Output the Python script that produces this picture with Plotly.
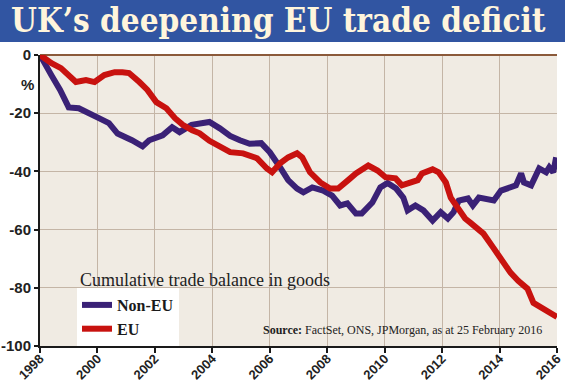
import plotly.graph_objects as go

title_text = "UK’s deepening EU trade deficit"
subtitle_text = "Cumulative trade balance in goods"
source_text = "<b>Source:</b> FactSet, ONS, JPMorgan, as at 25 February 2016"

non_eu_years = [1998.0, 1998.1, 1998.4, 1998.7, 1999.0, 1999.35, 1999.65, 2000.05, 2000.4, 2000.7,
                2001.2, 2001.57, 2001.8, 2002.27, 2002.6, 2002.86, 2003.28, 2003.56, 2003.9, 2004.26,
                2004.62, 2004.96, 2005.3, 2005.7, 2006.0, 2006.36, 2006.64, 2006.95, 2007.17, 2007.48,
                2007.86, 2008.17, 2008.45, 2008.7, 2009.0, 2009.2, 2009.57, 2009.85, 2010.1, 2010.4,
                2010.65, 2010.8, 2011.07, 2011.35, 2011.67, 2011.95, 2012.2, 2012.4, 2012.58, 2012.9,
                2013.07, 2013.28, 2013.6, 2013.8, 2014.05, 2014.33, 2014.57, 2014.75, 2014.85, 2015.1,
                2015.38, 2015.62, 2015.73, 2015.87, 2015.97]
non_eu_values = [0, -2, -7, -12, -18, -18.3, -20, -21.7, -23.4, -27,
                 -29.3, -31.4, -29.3, -27.6, -24.8, -26.5, -24, -23.4, -23, -25.2,
                 -27.8, -29.3, -30.5, -30.3, -33.4, -38.6, -43, -45.9, -47.2, -45.5,
                 -46.6, -48.3, -51.7, -51, -54.5, -54.5, -50.7, -45.5, -44, -45.9,
                 -49, -53.4, -51.7, -53.4, -56.9, -54, -56.2, -54, -50, -49.3,
                 -51.7, -49, -49.3, -50, -46.6, -45.9, -44.8, -40.7, -43.8, -44.8,
                 -39, -40.3, -38.6, -40.3, -35.2]

eu_years = [1998.0, 1998.07, 1998.4, 1998.73, 1999.0, 1999.25, 1999.6, 1999.9, 2000.24, 2000.6,
            2000.87, 2001.1, 2001.46, 2001.74, 2002.05, 2002.4, 2002.7, 2002.97, 2003.3, 2003.56,
            2003.9, 2004.26, 2004.62, 2005.07, 2005.56, 2005.9, 2006.08, 2006.36, 2006.64, 2006.95,
            2007.13, 2007.4, 2007.76, 2008.1, 2008.38, 2008.73, 2009.0, 2009.43, 2009.75, 2010.03,
            2010.38, 2010.6, 2010.9, 2011.15, 2011.3, 2011.67, 2011.88, 2012.13, 2012.3, 2012.55,
            2012.8, 2012.98, 2013.44, 2013.78, 2014.1, 2014.38, 2014.65, 2014.97, 2015.18, 2015.53,
            2015.94, 2016.0]
eu_values = [0, -0.5, -2.8, -4.5, -6.9, -9.3, -8.6, -9.3, -6.9, -5.9,
             -5.9, -6.2, -9.3, -12, -16.2, -18.3, -21.7, -24, -25.9, -26.9,
             -29.5, -31.7, -33.4, -33.8, -35.5, -39, -40.3, -37.2, -35.2, -33.8,
             -35.2, -40.3, -43.8, -45.9, -45.9, -43, -40.7, -38, -39.7, -42,
             -42.4, -44.8, -43.8, -43, -40.7, -39.3, -40.3, -43.8, -49, -52.8,
             -56.2, -57.6, -61.4, -66.2, -70.7, -74.8, -77.6, -80.3, -85.2, -87.2,
             -89.7, -90]

x_ticks = list(range(1998, 2017, 2))
x_tick_labels = [str(v) for v in x_ticks]
y_ticks = [0, -20, -40, -60, -80, -100]
y_tick_labels = [str(v) for v in y_ticks]

W, H = 565, 384
ML, MR, MT, MB = 40, 8, 55, 38
PW, PH = W - ML - MR, H - MT - MB

def px_x(p):
    return (p - ML) / PW

def px_y(p):
    return (H - MB - p) / PH

fig = go.Figure()
fig.add_trace(go.Scatter(x=non_eu_years, y=non_eu_values, mode="lines", name="Non-EU",
                         line=dict(color="#3a2176", width=6)))
fig.add_trace(go.Scatter(x=eu_years, y=eu_values, mode="lines", name="EU",
                         line=dict(color="#c8120f", width=6)))

ytickfont = dict(family="Liberation Sans", size=15, color="#222222", weight="bold")
xtickfont = dict(family="Liberation Sans", size=13, color="#222222", weight="bold")

fig.update_layout(
    width=W, height=H,
    margin=dict(l=ML, r=MR, t=MT, b=MB, autoexpand=False),
    paper_bgcolor="white",
    plot_bgcolor="#f0ebe3",
    showlegend=True,
    legend=dict(x=px_x(77), y=px_y(288), xanchor="left", yanchor="top",
                bgcolor="white", borderwidth=0,
                font=dict(family="Liberation Serif", size=16, color="#1a1a1a", weight="bold"),
                tracegroupgap=0, itemwidth=30),
    xaxis=dict(range=[1998, 2016], tickvals=x_ticks, ticktext=x_tick_labels,
               tickangle=-45, tickfont=xtickfont, showgrid=True, gridcolor="#c4b5a6",
               gridwidth=1.2, showline=True, linecolor="#1a1a1a", linewidth=2,
               ticks="outside", ticklen=5, tickcolor="#1a1a1a", tickwidth=1.5,
               ticklabelstandoff=-7,
               zeroline=False, fixedrange=True, automargin=False),
    yaxis=dict(range=[-100, 0], tickvals=y_ticks, ticktext=y_tick_labels,
               tickfont=ytickfont, showgrid=True, gridcolor="#c4b5a6", gridwidth=1.2,
               showline=True, linecolor="#1a1a1a", linewidth=2,
               ticks="outside", ticklen=4, tickcolor="#1a1a1a", tickwidth=1.5,
               zeroline=True, zerolinecolor="#8b5a3a", zerolinewidth=2, fixedrange=True,
               automargin=False),
)

# title bar
fig.add_shape(type="rect", xref="paper", yref="paper",
              x0=px_x(0), x1=px_x(W), y0=px_y(42), y1=px_y(0),
              fillcolor="#3155a2", line=dict(width=0), layer="above")
fig.add_annotation(text="<b>" + title_text + "</b>", xref="paper", yref="paper",
                   x=px_x(9), y=px_y(21), xanchor="left", yanchor="middle", showarrow=False,
                   font=dict(family="DejaVu Serif Condensed", size=33, color="#fff5dc"))

fig.add_annotation(text="%", xref="paper", yref="paper", x=px_x(27), y=px_y(85),
                   xanchor="center", yanchor="middle", showarrow=False,
                   font=dict(family="Liberation Sans", size=15, color="#222222", weight="bold"))

fig.add_annotation(text=subtitle_text, xref="paper", yref="paper", x=px_x(78), y=px_y(280),
                   xanchor="left", yanchor="middle", showarrow=False,
                   font=dict(family="Liberation Serif", size=18, color="#222222"))

fig.add_annotation(text=source_text, xref="paper", yref="paper", x=px_x(544), y=px_y(330),
                   xanchor="right", yanchor="middle", showarrow=False,
                   font=dict(family="Liberation Serif", size=12, color="#222222"))

fig.write_html("out.html", config={"displayModeBar": False},
               post_script="document.body.style.margin='0';document.body.style.padding='0';")
